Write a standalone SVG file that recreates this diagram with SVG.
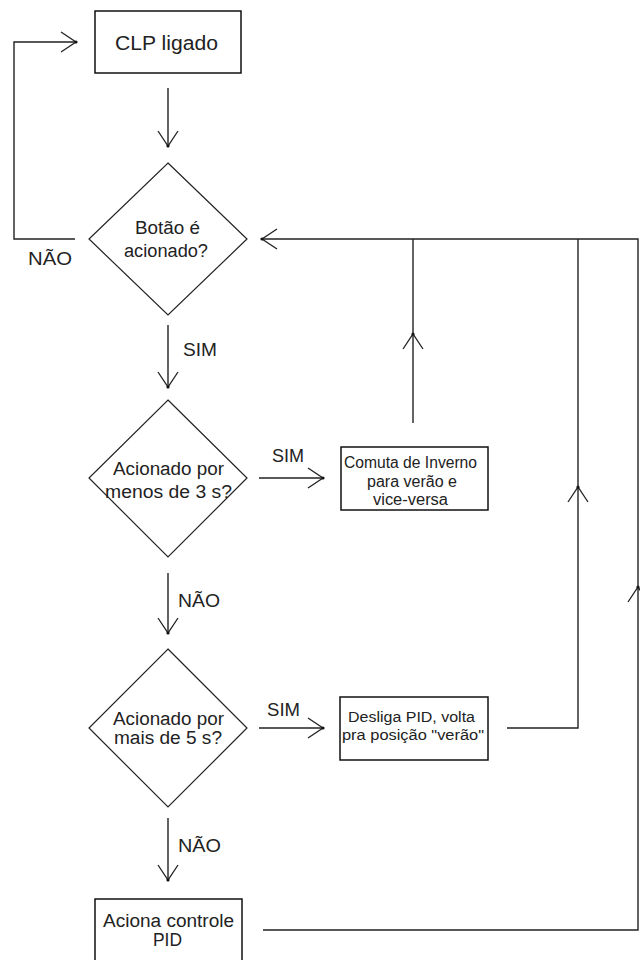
<svg xmlns="http://www.w3.org/2000/svg" width="640" height="960" viewBox="0 0 640 960">
<style>
  .box { fill: #fff; stroke: #111; stroke-width: 1.5; }
  .dia { fill: #fff; stroke: #222; stroke-width: 1.2; }
  .con { fill: none; stroke: #222; stroke-width: 1.4; }
  text { font-family: "Liberation Sans", Arial, sans-serif; fill: #222; text-anchor: middle; }
  .t20 { font-size: 20px; }
  .t18 { font-size: 18px; }
  .t16 { font-size: 16px; }
  .t14 { font-size: 14px; }
</style>
<defs>
  <marker id="ah" markerUnits="userSpaceOnUse" orient="auto" viewBox="-17 -12 19 24" refX="0" refY="0" markerWidth="19" markerHeight="24">
    <path d="M-15,-10 L0,0 L-15,10" fill="none" stroke="#222" stroke-width="1.3"/>
    <circle cx="0" cy="0" r="1.6" fill="#111"/>
  </marker>
</defs>
<rect width="640" height="960" fill="#fff"/>

<g id="connectors">
  <path class="con" d="M75,239 L14,239 L14,42 L76,42" marker-end="url(#ah)"/>
  <path class="con" d="M168,88 L168,146" marker-end="url(#ah)"/>
  <path class="con" d="M168,325 L168,387" marker-end="url(#ah)"/>
  <path class="con" d="M168,573 L168,633" marker-end="url(#ah)"/>
  <path class="con" d="M168,818 L168,880" marker-end="url(#ah)"/>
  <path class="con" d="M259,478 L323,478" marker-end="url(#ah)"/>
  <path class="con" d="M259,728 L323,728" marker-end="url(#ah)"/>
  <path class="con" d="M413,423 L413,334" marker-end="url(#ah)"/>
  <path class="con" d="M413,334 L413,239"/>
  <path class="con" d="M507,728 L578,728 L578,487" marker-end="url(#ah)"/>
  <path class="con" d="M578,487 L578,239"/>
  <path class="con" d="M263,930 L638,930 L638,587" marker-end="url(#ah)"/>
  <path class="con" d="M638,587 L638,239 L262,239" marker-end="url(#ah)"/>
  <text class="t18" x="50" y="265" textLength="44" lengthAdjust="spacingAndGlyphs">NÃO</text>
  <text class="t18" x="200" y="356" textLength="34" lengthAdjust="spacingAndGlyphs">SIM</text>
  <text class="t18" x="288" y="462" textLength="32" lengthAdjust="spacingAndGlyphs">SIM</text>
  <text class="t18" x="199" y="607" textLength="42" lengthAdjust="spacingAndGlyphs">NÃO</text>
  <text class="t18" x="283.5" y="716" textLength="33" lengthAdjust="spacingAndGlyphs">SIM</text>
  <text class="t18" x="199.5" y="852" textLength="43" lengthAdjust="spacingAndGlyphs">NÃO</text>
</g>

<g id="clp">
  <rect class="box" x="95" y="11" width="146" height="62"/>
  <text class="t20" x="166.5" y="50" textLength="103" lengthAdjust="spacingAndGlyphs">CLP ligado</text>
</g>

<g id="botao">
  <polygon class="dia" points="168,163 247,239 168,315 89,239"/>
  <text class="t18" x="167.5" y="234" textLength="65" lengthAdjust="spacingAndGlyphs">Botão é</text>
  <text class="t18" x="166" y="257" textLength="84" lengthAdjust="spacingAndGlyphs">acionado?</text>
</g>

<g id="menos3">
  <polygon class="dia" points="168,400 247,478 168,557 89,478"/>
  <text class="t18" x="168.5" y="475" textLength="111" lengthAdjust="spacingAndGlyphs">Acionado por</text>
  <text class="t18" x="168.5" y="498" textLength="127" lengthAdjust="spacingAndGlyphs">menos de 3 s?</text>
</g>

<g id="comuta">
  <rect class="box" x="341" y="447" width="147" height="63"/>
  <text class="t16" x="410.5" y="468" textLength="133" lengthAdjust="spacingAndGlyphs">Comuta de Inverno</text>
  <text class="t16" x="412" y="487" textLength="90" lengthAdjust="spacingAndGlyphs">para verão e</text>
  <text class="t16" x="410.5" y="505" textLength="75" lengthAdjust="spacingAndGlyphs">vice-versa</text>
</g>

<g id="mais5">
  <polygon class="dia" points="168,649 247,728 168,807 89,728"/>
  <text class="t18" x="168.5" y="725" textLength="111" lengthAdjust="spacingAndGlyphs">Acionado por</text>
  <text class="t18" x="168" y="744" textLength="108" lengthAdjust="spacingAndGlyphs">mais de 5 s?</text>
</g>

<g id="desliga">
  <rect class="box" x="340" y="697" width="148" height="63"/>
  <text class="t14" x="411.5" y="722" textLength="127" lengthAdjust="spacingAndGlyphs">Desliga PID, volta</text>
  <text class="t14" x="413" y="740" textLength="142" lengthAdjust="spacingAndGlyphs">pra posição "verão"</text>
</g>

<g id="aciona">
  <rect class="box" x="95" y="899" width="147" height="80"/>
  <text class="t18" x="168.5" y="927" textLength="131" lengthAdjust="spacingAndGlyphs">Aciona controle</text>
  <text class="t18" x="167.5" y="946" textLength="29" lengthAdjust="spacingAndGlyphs">PID</text>
</g>
</svg>
